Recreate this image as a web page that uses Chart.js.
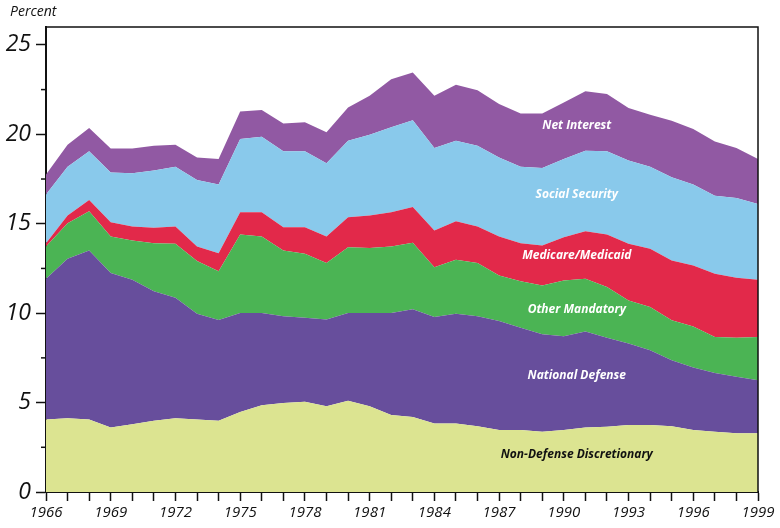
<!DOCTYPE html>
<html>
<head>
<meta charset="utf-8">
<script src="https://cdn.jsdelivr.net/npm/chart.js@4/dist/chart.umd.min.js"></script>
<style>
  html, body { margin:0; padding:0; background:#fff; }
  #wrap { width:780px; height:528px; }
</style>
</head>
<body>
<div id="wrap"><canvas id="outlays"></canvas></div>
<script>
// Federal outlays by category, percent of GDP
const years = ['1966','1967','1968','1969','1970','1971','1972','1973','1974','1975','1976','1977',
  '1978','1979','1980','1981','1982','1983','1984','1985','1986','1987','1988','1989','1990','1991',
  '1992','1993','1994','1995','1996','1997','1998','1999'];

const nonDefense = [4.06,4.13,4.06,3.61,3.79,3.98,4.13,4.06,3.98,4.48,4.85,4.98,5.04,4.80,5.10,4.80,
  4.30,4.20,3.83,3.83,3.68,3.46,3.46,3.37,3.46,3.60,3.65,3.74,3.74,3.68,3.46,3.37,3.28,3.28];
const defense = [7.86,8.91,9.44,8.63,8.08,7.25,6.73,5.91,5.64,5.53,5.16,4.84,4.71,4.84,4.91,5.21,
  5.71,6.02,5.95,6.14,6.14,6.10,5.73,5.45,5.25,5.37,4.98,4.56,4.18,3.69,3.50,3.29,3.16,2.97];
const otherMandatory = [1.81,1.99,2.20,2.05,2.19,2.68,3.02,2.94,2.73,4.39,4.28,3.68,3.57,3.16,3.68,3.64,
  3.72,3.72,2.79,3.01,2.98,2.55,2.60,2.73,3.12,2.95,2.83,2.41,2.42,2.23,2.30,2.01,2.19,2.42];
const medicare = [0.18,0.43,0.63,0.79,0.78,0.86,0.96,0.82,1.00,1.24,1.35,1.31,1.49,1.49,1.67,1.81,
  1.91,2.00,2.05,2.16,2.04,2.18,2.12,2.23,2.42,2.66,2.94,3.17,3.26,3.35,3.41,3.53,3.35,3.20];
const socialSecurity = [2.72,2.73,2.72,2.79,2.98,3.20,3.35,3.72,3.84,4.10,4.23,4.24,4.24,4.09,4.28,4.52,
  4.75,4.84,4.61,4.50,4.52,4.42,4.28,4.34,4.37,4.50,4.65,4.65,4.59,4.65,4.52,4.37,4.46,4.24];
const netInterest = [1.12,1.23,1.30,1.34,1.39,1.39,1.23,1.26,1.43,1.54,1.49,1.56,1.62,1.73,1.86,2.17,
  2.69,2.67,2.92,3.13,3.11,2.98,2.98,3.05,3.16,3.33,3.20,2.94,2.90,3.16,3.10,3.03,2.79,2.51];

const yTicks = [0, 2.5, 5, 7.5, 10, 12.5, 15, 17.5, 20, 22.5, 25];

// where each band name sits, in data units (year index, percent)
const bandLabels = [
  { text:'Net Interest', at:24.6, y:20.5, color:'#fff' },
  { text:'Social Security', at:24.6, y:16.65, color:'#fff' },
  { text:'Medicare/Medicaid', at:24.6, y:13.2, color:'#fff' },
  { text:'Other Mandatory', at:24.6, y:10.2, color:'#fff' },
  { text:'National Defense', at:24.6, y:6.5, color:'#fff' },
  { text:'Non-Defense Discretionary', at:24.6, y:2.1, color:'#111' }
];

const INK = '#111';

function band(label, data, color, fill){
  return { label: label, data: data, backgroundColor: color, borderWidth: 0,
    pointRadius: 0, fill: fill, tension: 0 };
}

const decor = {
  id: 'decor',
  afterDatasetsDraw(chart){
    const ctx = chart.ctx, a = chart.chartArea;
    const xs = chart.scales.x, ys = chart.scales.y;
    ctx.save();
    // frame top and right
    ctx.strokeStyle = INK; ctx.lineWidth = 1.5;
    ctx.beginPath();
    ctx.moveTo(a.left, a.top); ctx.lineTo(a.right, a.top); ctx.lineTo(a.right, a.bottom);
    ctx.stroke();
    // minor y ticks
    ctx.lineWidth = 1.5;
    yTicks.forEach(v => {
      if (v % 5 === 0) return;
      const py = ys.getPixelForValue(v);
      ctx.beginPath(); ctx.moveTo(a.left - 5, py); ctx.lineTo(a.left, py); ctx.stroke();
    });
    // band names
    ctx.font = 'italic bold 12px "Open Sans"';
    ctx.textAlign = 'center'; ctx.textBaseline = 'middle';
    bandLabels.forEach(l => {
      ctx.fillStyle = l.color;
      ctx.fillText(l.text, xs.getPixelForValue(l.at), ys.getPixelForValue(l.y));
    });
    // unit label
    ctx.fillStyle = INK; ctx.textAlign = 'left';
    ctx.font = 'italic 14px "Open Sans"';
    ctx.fillText('Percent', 10, 12);
    ctx.restore();
  }
};

new Chart(document.getElementById('outlays'), {
  type: 'line',
  data: {
    labels: years,
    datasets: [
      band('Non-Defense Discretionary', nonDefense, '#dce491', 'origin'),
      band('National Defense', defense, '#674e9c', '-1'),
      band('Other Mandatory', otherMandatory, '#4bb454', '-1'),
      band('Medicare/Medicaid', medicare, '#e2294a', '-1'),
      band('Social Security', socialSecurity, '#89c9eb', '-1'),
      band('Net Interest', netInterest, '#9159a3', '-1')
    ]
  },
  options: {
    responsive: true,
    maintainAspectRatio: false,
    animation: false,
    layout: { padding: { top: 27, right: 22, left: 0, bottom: 0 } },
    plugins: { legend: { display: false }, tooltip: { enabled: false } },
    scales: {
      x: {
        offset: false,
        grid: { display: true, drawOnChartArea: false, drawTicks: true, tickLength: 9,
          tickColor: INK, tickWidth: 1.5 },
        border: { color: INK, width: 2 },
        ticks: { autoSkip: false, maxRotation: 0, padding: 3, color: INK,
          font: { family: '"Open Sans"', size: 15, style: 'italic' },
          callback: (v, i) => (i % 3 === 0 ? years[i] : '') },
        afterFit: s => { s.height = 36; }
      },
      y: {
        stacked: true, min: 0, max: 26,
        afterBuildTicks: s => { s.ticks = yTicks.map(v => ({ value: v })); },
        grid: { display: true, drawOnChartArea: false, drawTicks: true, tickLength: 10,
          tickWidth: 1.5, tickColor: c => (c.tick && c.tick.value % 5 === 0 ? INK : 'rgba(0,0,0,0)') },
        border: { color: INK, width: 2 },
        ticks: { padding: 5, color: INK,
          font: { family: '"Open Sans"', size: 23, style: 'italic' },
          callback: v => (v % 5 === 0 ? String(v) : '') },
        afterFit: s => { s.width = 46; }
      }
    }
  },
  plugins: [decor]
});
</script>
</body>
</html>
